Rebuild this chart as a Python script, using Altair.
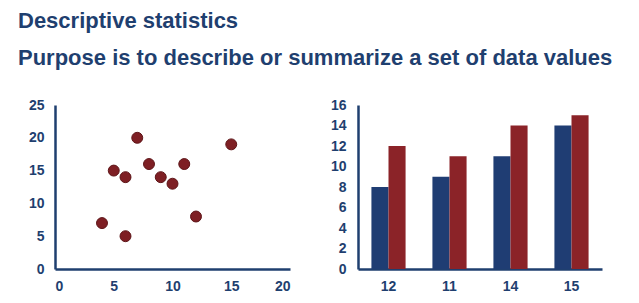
import altair as alt
import pandas as pd

# Scatter data
scatter_x = [4, 5, 6, 6, 7, 8, 9, 10, 11, 12, 15]
scatter_y = [7, 15, 14, 5, 20, 16, 14, 13, 16, 8, 19]

# Bar data
categories = ["12", "11", "14", "15"]
series_a = [8, 9, 11, 14]
series_b = [12, 11, 14, 15]

NAVY = "#1F3F6F"
BLUE = "#1F3D73"
RED = "#8B2328"
FONT = "Liberation Sans"

sdf = pd.DataFrame({"x": scatter_x, "y": scatter_y})
rows = []
for c, a, b in zip(categories, series_a, series_b):
    rows.append({"cat": c, "series": "A", "value": a})
    rows.append({"cat": c, "series": "B", "value": b})
bdf = pd.DataFrame(rows)

axis_common = dict(
    grid=False, ticks=False, domainColor=NAVY, domainWidth=2.5,
    labelColor=NAVY, labelFont=FONT, labelFontWeight="bold", labelFontSize=14,
    title=None,
)

scatter = alt.Chart(sdf).mark_circle(size=120, opacity=1, color="#7E1F24", stroke="#5E1518", strokeWidth=1).encode(
    x=alt.X("x:Q", scale=alt.Scale(domain=[0, 20], nice=False),
            axis=alt.Axis(values=[0, 5, 10, 15, 20], labelPadding=10, **axis_common)),
    y=alt.Y("y:Q", scale=alt.Scale(domain=[0, 25], nice=False),
            axis=alt.Axis(values=[0, 5, 10, 15, 20, 25], labelPadding=11, minExtent=37, **axis_common)),
).properties(width=235, height=164)

bars = alt.Chart(bdf).mark_bar().encode(
    x=alt.X("cat:N", sort=categories,
            scale=alt.Scale(paddingInner=0.44, paddingOuter=0.22),
            axis=alt.Axis(labelAngle=0, labelPadding=10, **axis_common)),
    xOffset=alt.XOffset("series:N", scale=alt.Scale(paddingInner=0, paddingOuter=0)),
    y=alt.Y("value:Q", scale=alt.Scale(domain=[0, 16], nice=False),
            axis=alt.Axis(values=list(range(0, 17, 2)), labelPadding=12, minExtent=28, **axis_common)),
    color=alt.Color("series:N", scale=alt.Scale(domain=["A", "B"], range=[BLUE, RED]), legend=None),
).properties(width=244, height=164)

chart = alt.hconcat(scatter, bars, spacing=40).properties(
    title=alt.TitleParams(
        text="Descriptive statistics",
        subtitle="Purpose is to describe or summarize a set of data values",
        anchor="start", font=FONT, fontSize=22, fontWeight="bold", color=NAVY,
        subtitleFont=FONT, subtitleFontSize=22, subtitleFontWeight="bold", subtitleColor=NAVY,
        subtitlePadding=15, offset=28,
    ),
    padding={"left": 10, "top": 2, "right": 5, "bottom": 5},
).configure_view(stroke=None)

chart.save("out.html", embed_options={"renderer": "svg", "actions": False})
